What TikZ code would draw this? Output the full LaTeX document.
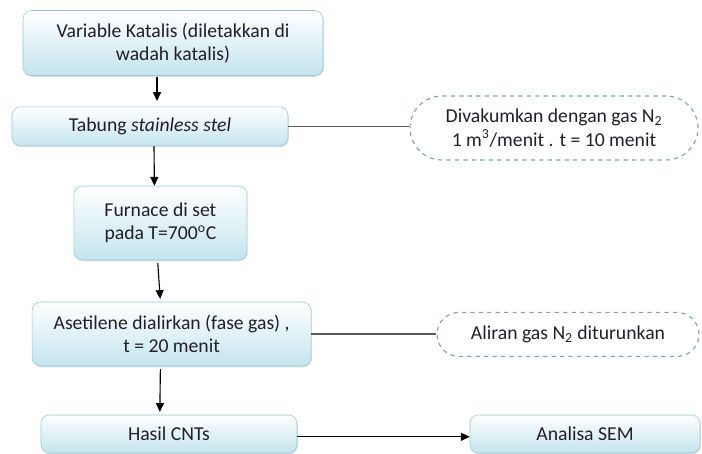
\documentclass[tikz,border=0pt]{standalone}
\usepackage{fontspec}
\setmainfont{Carlito}
\usepackage{tikz}
\usetikzlibrary{arrows.meta, positioning, shadows, calc}

\definecolor{boxedge}{RGB}{150,200,215}
\definecolor{boxfill}{RGB}{196,228,238}
\definecolor{dashblue}{RGB}{120,160,205}
\definecolor{txt}{RGB}{35,30,40}

\begin{document}
\begin{tikzpicture}[
    step box/.style={draw=boxedge, rounded corners=6pt, top color=white, bottom color=boxfill,
        drop shadow={opacity=0.25, shadow xshift=0.6pt, shadow yshift=-0.9pt},
        align=center, font=\fontsize{14}{16.5}\selectfont, text=txt, inner sep=2pt},
    note/.style={draw=dashblue, dashed, thick, align=center,
        font=\fontsize{14}{16.5}\selectfont, text=txt},
    arr/.style={-{Triangle[length=2.2mm, width=2mm]}, thick, black},
    link/.style={-, thick, black!65}
]
\useasboundingbox (0,0) rectangle (17.55,-11.35);

% main steps
\node[step box, minimum width=7.5cm, minimum height=1.625cm] (katalis) at (4.325,-1.075)
    {Variable Katalis (diletakkan di\\ wadah katalis)};
\node[step box, minimum width=6.9cm, minimum height=0.975cm] (tabung) at (3.75,-3.16)
    {Tabung \textit{stainless stel}};
\node[step box, minimum width=4.325cm, minimum height=1.85cm] (furnace) at (4.01,-5.575)
    {Furnace di set\\ pada T=700\textsuperscript{o}C};
\node[step box, minimum width=6.975cm, minimum height=1.6cm] (asetilene) at (4.29,-8.35)
    {Asetilene dialirkan (fase gas) ,\\ t = 20 menit};
\node[step box, minimum width=6.4cm, minimum height=0.95cm] (hasil) at (4.225,-10.85)
    {Hasil CNTs};
\node[step box, minimum width=5.75cm, minimum height=0.95cm] (sem) at (14.625,-10.85)
    {Analisa SEM};

% side notes
\node[note, rounded corners=0.8cm, minimum width=7.2cm, minimum height=1.6cm] (vakum) at (13.85,-3.2)
    {Divakumkan dengan gas N\textsubscript{2}\\ 1 m\textsuperscript{3}/menit . t = 10 menit};
\node[note, rounded corners=0.55cm, minimum width=6.55cm, minimum height=1.1cm] (aliran) at (14.2,-8.36)
    {Aliran gas N\textsubscript{2} diturunkan};

% connectors
\draw[arr, shorten <=1pt, shorten >=4pt] ([xshift=-0.4cm]katalis.south) -- ([xshift=0.175cm]tabung.north);
\draw[arr] ([xshift=0.1cm]tabung.south) -- ([xshift=-0.15cm]furnace.north);
\draw[arr, shorten <=2pt, shorten >=2pt] ([xshift=-0.07cm]furnace.south) -- ([xshift=-0.28cm]asetilene.north);
\draw[arr, shorten <=2pt, shorten >=2pt] ([xshift=-0.28cm]asetilene.south) -- ([xshift=-0.23cm]hasil.north);
\draw[arr] ([yshift=-0.07cm]hasil.east) -- ([yshift=-0.07cm]sem.west);
\draw[link] (tabung.east) -- (tabung.east -| vakum.west);
\draw[link] (asetilene.east) -- (asetilene.east -| aliran.west);

\end{tikzpicture}
\end{document}
